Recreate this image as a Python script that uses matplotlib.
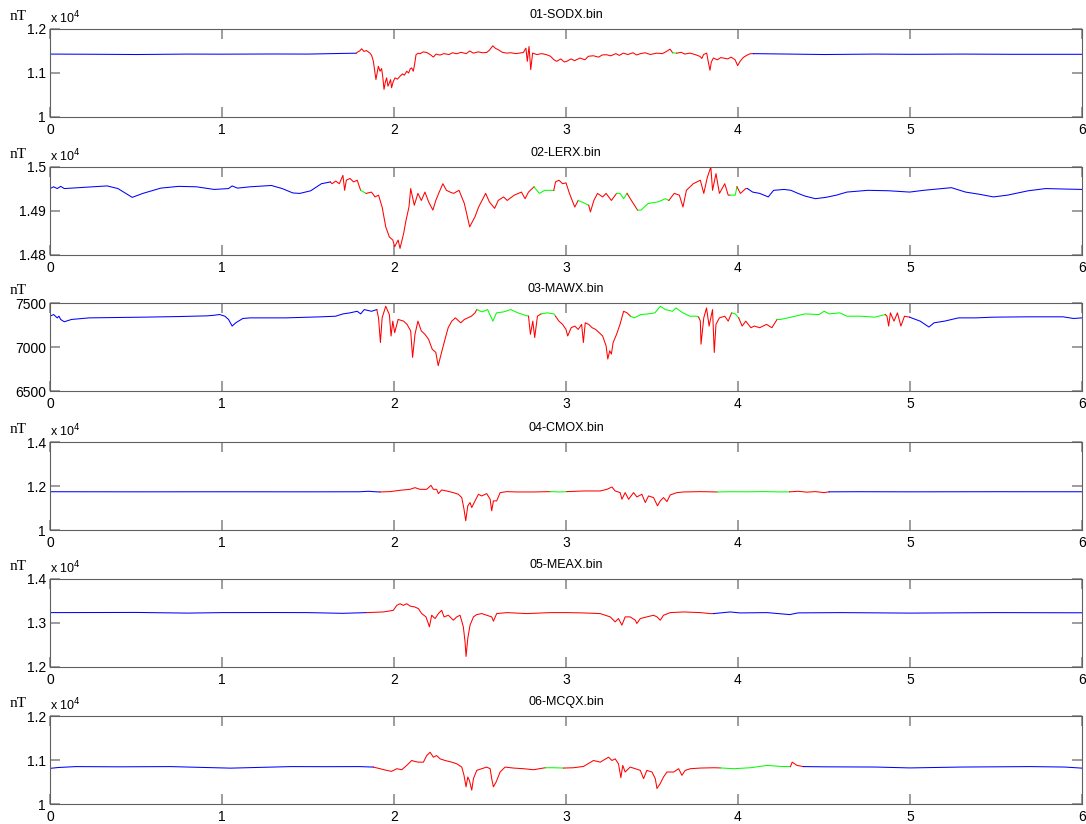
import matplotlib.pyplot as plt
import numpy as np

# (day, nT), one list per station
sodx = [(0.0, 11430), (0.3, 11425), (0.5, 11420), (0.8, 11430), (1.0, 11428), (1.3, 11432), (1.5, 11430),
        (1.7, 11445), (1.78, 11450), (1.79, 11480), (1.80, 11500), (1.812, 11550), (1.825, 11490), (1.84, 11510),
        (1.86, 11452), (1.87, 11400), (1.88, 11265), (1.895, 10852), (1.909, 11152), (1.919, 11040), (1.928, 11100),
        (1.935, 10900), (1.942, 10627), (1.95, 10800), (1.957, 10890), (1.965, 10700), (1.973, 10777), (1.98, 10850),
        (1.986, 10665), (1.995, 10800), (2.006, 10890), (2.02, 10860), (2.035, 10927), (2.05, 10980), (2.06, 10950),
        (2.074, 11040), (2.085, 11000), (2.095, 11100), (2.103, 11115), (2.112, 11040), (2.12, 11200), (2.128, 11415),
        (2.14, 11450), (2.151, 11437), (2.17, 11480), (2.19, 11467), (2.21, 11420), (2.229, 11362), (2.245, 11430),
        (2.267, 11407), (2.29, 11440), (2.32, 11420), (2.34, 11460), (2.364, 11437), (2.39, 11470), (2.42, 11440),
        (2.44, 11500), (2.461, 11452), (2.49, 11480), (2.515, 11460), (2.539, 11467), (2.555, 11520), (2.574, 11617),
        (2.59, 11560), (2.607, 11527), (2.63, 11470), (2.655, 11452), (2.68, 11460), (2.71, 11440), (2.752, 11467),
        (2.767, 11565), (2.775, 11265), (2.785, 11602), (2.795, 11077), (2.806, 11452), (2.83, 11420), (2.86, 11440),
        (2.888, 11415), (2.91, 11380), (2.93, 11300), (2.946, 11265), (2.97, 11320), (2.99, 11250), (3.004, 11265),
        (3.03, 11320), (3.05, 11280), (3.081, 11340), (3.11, 11300), (3.13, 11380), (3.159, 11392), (3.19, 11360),
        (3.21, 11410), (3.236, 11415), (3.26, 11390), (3.29, 11440), (3.31, 11400), (3.333, 11452), (3.36, 11420),
        (3.39, 11460), (3.41, 11410), (3.43, 11437), (3.46, 11460), (3.49, 11420), (3.527, 11452), (3.56, 11440),
        (3.58, 11480), (3.605, 11542), (3.62, 11460), (3.643, 11450), (3.67, 11470), (3.69, 11430), (3.721, 11452),
        (3.75, 11420), (3.779, 11377), (3.79, 11330), (3.80, 11420), (3.818, 11452), (3.825, 11300), (3.837, 11062),
        (3.845, 11250), (3.857, 11340), (3.88, 11300), (3.90, 11350), (3.915, 11340), (3.94, 11320), (3.96, 11360),
        (3.983, 11302), (3.998, 11167), (4.012, 11265), (4.03, 11350), (4.05, 11400), (4.07, 11437), (4.09, 11440),
        (4.3, 11430), (4.5, 11420), (4.8, 11430), (5.0, 11425), (5.3, 11430), (5.6, 11425), (6.0, 11425)]

lerx = [(0.0, 14951), (0.021, 14955), (0.042, 14951), (0.062, 14956), (0.083, 14951), (0.125, 14952), (0.332, 14957),
        (0.395, 14951), (0.478, 14931), (0.54, 14940), (0.644, 14952), (0.748, 14956), (0.851, 14955), (0.955, 14949),
        (1.038, 14951), (1.059, 14957), (1.09, 14952), (1.163, 14955), (1.287, 14958), (1.35, 14951), (1.412, 14941),
        (1.453, 14940), (1.516, 14946), (1.578, 14962), (1.63, 14966), (1.64, 14962), (1.661, 14968), (1.682, 14962),
        (1.703, 14981), (1.713, 14947), (1.723, 14970), (1.744, 14974), (1.765, 14966), (1.786, 14970), (1.806, 14947),
        (1.838, 14940), (1.869, 14943), (1.89, 14932), (1.91, 14936), (1.931, 14909), (1.952, 14864), (1.973, 14841),
        (1.993, 14834), (2.004, 14819), (2.024, 14834), (2.035, 14815), (2.056, 14849), (2.07, 14879), (2.087, 14909),
        (2.097, 14951), (2.118, 14913), (2.139, 14940), (2.159, 14924), (2.18, 14943), (2.201, 14921), (2.226, 14902),
        (2.243, 14924), (2.263, 14943), (2.284, 14962), (2.305, 14947), (2.326, 14943), (2.346, 14940), (2.378, 14947),
        (2.409, 14917), (2.44, 14864), (2.471, 14887), (2.492, 14909), (2.533, 14940), (2.554, 14921), (2.585, 14906),
        (2.606, 14924), (2.637, 14932), (2.658, 14924), (2.699, 14936), (2.741, 14943), (2.762, 14928), (2.782, 14943),
        (2.814, 14955), (2.845, 14940), (2.876, 14947), (2.929, 14947), (2.939, 14966), (2.959, 14970), (2.98, 14962),
        (3.0, 14964), (3.02, 14940), (3.051, 14909), (3.071, 14924), (3.112, 14917), (3.132, 14913), (3.142, 14898),
        (3.162, 14924), (3.183, 14940), (3.213, 14932), (3.233, 14940), (3.264, 14924), (3.294, 14940), (3.314, 14940),
        (3.335, 14928), (3.355, 14940), (3.385, 14921), (3.416, 14902), (3.436, 14902), (3.477, 14917), (3.538, 14921),
        (3.578, 14928), (3.598, 14924), (3.629, 14940), (3.659, 14936), (3.68, 14909), (3.70, 14947), (3.74, 14962),
        (3.781, 14970), (3.801, 14940), (3.822, 14977), (3.842, 15000), (3.852, 14947), (3.872, 14985), (3.892, 14940),
        (3.923, 14962), (3.943, 14936), (3.953, 14936), (3.984, 14936), (3.994, 14955), (4.014, 14940), (4.045, 14951),
        (4.055, 14951), (4.085, 14943), (4.126, 14940), (4.176, 14932), (4.207, 14947), (4.268, 14949), (4.308, 14947),
        (4.349, 14940), (4.389, 14934), (4.45, 14928), (4.511, 14931), (4.572, 14936), (4.633, 14943), (4.755, 14947),
        (4.876, 14946), (4.998, 14943), (5.079, 14947), (5.241, 14953), (5.323, 14943), (5.404, 14938), (5.485, 14932),
        (5.566, 14936), (5.688, 14946), (5.789, 14951), (5.89, 14950), (6.0, 14949)]

mawx = [(0.0, 7350), (0.021, 7369), (0.042, 7331), (0.052, 7350), (0.062, 7313), (0.083, 7287), (0.125, 7313),
        (0.228, 7331), (0.54, 7339), (0.748, 7346), (0.914, 7354), (0.955, 7361), (0.986, 7369), (1.017, 7350),
        (1.038, 7313), (1.059, 7238), (1.08, 7275), (1.121, 7324), (1.163, 7331), (1.37, 7331), (1.578, 7343),
        (1.661, 7350), (1.703, 7376), (1.744, 7388), (1.786, 7406), (1.806, 7376), (1.827, 7425), (1.869, 7406),
        (1.9, 7425), (1.91, 7331), (1.921, 7051), (1.931, 7331), (1.952, 7463), (1.973, 7369), (1.983, 7125),
        (1.993, 7294), (2.004, 7163), (2.024, 7313), (2.056, 7294), (2.076, 7257), (2.097, 7182), (2.108, 6882),
        (2.122, 7144), (2.139, 7294), (2.159, 7182), (2.18, 7144), (2.201, 7088), (2.222, 6976), (2.243, 6938),
        (2.257, 6788), (2.274, 6920), (2.294, 7069), (2.315, 7219), (2.336, 7294), (2.357, 7331), (2.388, 7275),
        (2.409, 7313), (2.45, 7350), (2.471, 7388), (2.481, 7425), (2.512, 7399), (2.544, 7425), (2.575, 7294),
        (2.596, 7388), (2.637, 7399), (2.679, 7425), (2.72, 7388), (2.762, 7361), (2.782, 7350), (2.793, 7144),
        (2.807, 7294), (2.818, 7107), (2.834, 7350), (2.855, 7376), (2.89, 7388), (2.93, 7376), (2.939, 7350),
        (2.959, 7294), (2.98, 7257), (3.0, 7200), (3.01, 7125), (3.03, 7219), (3.051, 7238), (3.071, 7200),
        (3.091, 7257), (3.101, 7051), (3.112, 7275), (3.132, 7257), (3.152, 7219), (3.172, 7200), (3.193, 7163),
        (3.213, 7125), (3.223, 7069), (3.233, 7013), (3.243, 6863), (3.254, 6957), (3.264, 6920), (3.274, 7051),
        (3.294, 7144), (3.314, 7257), (3.335, 7406), (3.355, 7388), (3.375, 7350), (3.396, 7331), (3.436, 7369),
        (3.477, 7376), (3.517, 7388), (3.548, 7463), (3.578, 7425), (3.619, 7406), (3.639, 7444), (3.68, 7388),
        (3.72, 7350), (3.761, 7350), (3.771, 7340), (3.781, 7294), (3.785, 7032), (3.801, 7331), (3.817, 7444),
        (3.832, 7238), (3.852, 7425), (3.862, 6938), (3.872, 7257), (3.892, 7331), (3.923, 7350), (3.943, 7294),
        (3.963, 7388), (3.984, 7376), (4.004, 7331), (4.024, 7238), (4.045, 7294), (4.075, 7219), (4.095, 7238),
        (4.126, 7219), (4.166, 7257), (4.197, 7219), (4.227, 7313), (4.247, 7313), (4.308, 7339), (4.389, 7376),
        (4.471, 7369), (4.501, 7406), (4.531, 7376), (4.592, 7388), (4.633, 7350), (4.714, 7350), (4.795, 7339),
        (4.856, 7369), (4.866, 7350), (4.876, 7238), (4.886, 7388), (4.907, 7294), (4.927, 7388), (4.947, 7238),
        (4.968, 7350), (4.998, 7339), (5.008, 7331), (5.059, 7294), (5.11, 7227), (5.14, 7275), (5.201, 7294),
        (5.282, 7331), (5.383, 7331), (5.485, 7339), (5.688, 7343), (5.89, 7343), (5.951, 7324), (6.0, 7331)]

cmox = [(0.0, 11740), (0.5, 11735), (1.0, 11738), (1.5, 11735), (1.8, 11738), (1.85, 11760), (1.9, 11735),
        (1.919, 11729), (1.977, 11744), (2.035, 11804), (2.093, 11849), (2.122, 11925), (2.151, 11849), (2.19, 11849),
        (2.215, 12030), (2.229, 11849), (2.248, 11849), (2.258, 11654), (2.277, 11819), (2.306, 11774), (2.345, 11699),
        (2.374, 11624), (2.394, 11473), (2.407, 10947), (2.417, 10420), (2.429, 11097), (2.442, 11248), (2.452, 11022),
        (2.471, 11323), (2.491, 11624), (2.51, 11548), (2.539, 11654), (2.559, 11398), (2.568, 10872), (2.578, 11323),
        (2.597, 11323), (2.617, 11699), (2.656, 11744), (2.714, 11729), (2.811, 11729), (2.908, 11744), (2.966, 11729),
        (3.005, 11744), (3.102, 11774), (3.199, 11774), (3.238, 11849), (3.267, 11955), (3.286, 11774), (3.315, 11699),
        (3.325, 11398), (3.344, 11699), (3.364, 11398), (3.393, 11699), (3.412, 11503), (3.441, 11624), (3.461, 11248),
        (3.48, 11548), (3.509, 11473), (3.532, 11097), (3.548, 11323), (3.567, 11473), (3.587, 11293), (3.606, 11594),
        (3.645, 11699), (3.684, 11729), (3.781, 11744), (3.878, 11729), (3.95, 11740), (4.05, 11735), (4.15, 11745),
        (4.25, 11730), (4.3, 11735), (4.35, 11760), (4.4, 11720), (4.45, 11745), (4.5, 11700), (4.53, 11735),
        (4.7, 11740), (5.0, 11735), (5.5, 11740), (6.0, 11738)]

meax = [(0.0, 13236), (0.5, 13240), (0.8, 13225), (1.0, 13236), (1.3, 13238), (1.5, 13236), (1.7, 13220),
        (1.841, 13236), (1.938, 13251), (1.996, 13288), (2.016, 13401), (2.035, 13438), (2.054, 13401), (2.074, 13438),
        (2.093, 13386), (2.122, 13363), (2.142, 13326), (2.161, 13214), (2.186, 13139), (2.206, 12914), (2.219, 13176),
        (2.239, 13101), (2.258, 13214), (2.277, 13288), (2.291, 13139), (2.316, 13176), (2.345, 13064), (2.365, 13139),
        (2.384, 13176), (2.403, 12914), (2.413, 12577), (2.419, 12240), (2.429, 12652), (2.442, 12951), (2.462, 13139),
        (2.481, 13191), (2.51, 13214), (2.539, 13176), (2.568, 13139), (2.578, 13041), (2.597, 13214), (2.656, 13236),
        (2.772, 13214), (2.908, 13236), (3.005, 13236), (3.102, 13229), (3.199, 13214), (3.257, 13139), (3.286, 13026),
        (3.305, 13101), (3.325, 12951), (3.344, 13139), (3.373, 13139), (3.403, 13064), (3.412, 12989), (3.432, 13101),
        (3.47, 13139), (3.509, 13176), (3.529, 13139), (3.548, 13064), (3.567, 13176), (3.606, 13236), (3.684, 13251),
        (3.781, 13236), (3.839, 13214), (3.858, 13214), (3.955, 13251), (4.01, 13229), (4.17, 13236), (4.3, 13191),
        (4.35, 13230), (4.6, 13236), (5.0, 13225), (5.5, 13236), (6.0, 13232)]

mcqx = [(0.0, 10810), (0.05, 10830), (0.15, 10850), (0.4, 10845), (0.7, 10850), (0.9, 10830), (1.05, 10815),
        (1.2, 10830), (1.4, 10850), (1.6, 10848), (1.8, 10850), (1.88, 10839), (1.919, 10802), (1.957, 10764),
        (1.986, 10742), (2.016, 10802), (2.045, 10779), (2.074, 10877), (2.103, 10989), (2.122, 10966), (2.142, 10951),
        (2.171, 10951), (2.19, 11101), (2.21, 11176), (2.229, 11064), (2.248, 11101), (2.268, 11026), (2.297, 10989),
        (2.336, 10951), (2.365, 10914), (2.394, 10839), (2.407, 10652), (2.419, 10390), (2.429, 10614), (2.438, 10540),
        (2.452, 10315), (2.462, 10577), (2.481, 10764), (2.51, 10802), (2.539, 10839), (2.559, 10802), (2.568, 10577),
        (2.578, 10390), (2.594, 10502), (2.617, 10727), (2.646, 10839), (2.694, 10817), (2.753, 10802), (2.811, 10779),
        (2.879, 10824), (2.927, 10824), (2.985, 10817), (3.044, 10824), (3.102, 10854), (3.16, 10989), (3.199, 10951),
        (3.247, 11064), (3.267, 10989), (3.286, 11026), (3.305, 10914), (3.319, 10599), (3.33, 10877), (3.344, 10727),
        (3.373, 10839), (3.403, 10802), (3.432, 10764), (3.451, 10577), (3.47, 10764), (3.5, 10727), (3.519, 10577),
        (3.529, 10352), (3.548, 10465), (3.567, 10614), (3.587, 10727), (3.626, 10727), (3.655, 10802), (3.674, 10652),
        (3.693, 10764), (3.723, 10802), (3.781, 10817), (3.858, 10824), (3.897, 10820), (3.975, 10802), (4.072, 10824),
        (4.169, 10877), (4.246, 10854), (4.305, 10850), (4.315, 10951), (4.343, 10877), (4.38, 10850), (4.5, 10845),
        (4.8, 10840), (5.0, 10820), (5.3, 10840), (5.7, 10850), (5.9, 10840), (6.0, 10815)]

# where each coloured stretch of the trace begins/ends
edges_sodx = [0, 1.78, 3.62, 3.643, 4.09, 6]
colors_sodx = ['b', 'r', 'g', 'r', 'b']
edges_lerx = [0, 1.63, 1.806, 1.838, 2.814, 2.929, 3.071, 3.132, 3.294, 3.355, 3.416, 3.598, 3.953, 3.994, 4.055, 6]
colors_lerx = ['b', 'r', 'g', 'r', 'g', 'r', 'g', 'r', 'g', 'r', 'g', 'r', 'g', 'r', 'b']
edges_mawx = [0, 1.9, 2.481, 2.782, 2.855, 2.939, 3.375, 3.771, 3.963, 4.004, 4.227, 4.856, 4.998, 6]
colors_mawx = ['b', 'r', 'g', 'r', 'g', 'r', 'g', 'r', 'g', 'r', 'g', 'r', 'b']
edges_cmox = [0, 1.919, 2.908, 3.005, 3.878, 4.3, 4.53, 6]
colors_cmox = ['b', 'r', 'g', 'r', 'g', 'r', 'b']
edges_meax = [0, 1.841, 3.858, 6]
colors_meax = ['b', 'r', 'b']
edges_mcqx = [0, 1.88, 2.879, 2.985, 3.897, 4.305, 4.38, 6]
colors_mcqx = ['b', 'r', 'g', 'r', 'g', 'r', 'b']

titles = ['01-SODX.bin', '02-LERX.bin', '03-MAWX.bin', '04-CMOX.bin', '05-MEAX.bin', '06-MCQX.bin']
ylims = [(10000, 12000), (14800, 15000), (6500, 7500), (10000, 14000), (12000, 14000), (10000, 12000)]
yticks = [[10000, 11000, 12000], [14800, 14900, 15000], [6500, 7000, 7500],
          [10000, 12000, 14000], [12000, 13000, 14000], [10000, 11000, 12000]]
yticklabels = [['1', '1.1', '1.2'], ['1.48', '1.49', '1.5'], ['6500', '7000', '7500'],
               ['1', '1.2', '1.4'], ['1.2', '1.3', '1.4'], ['1', '1.1', '1.2']]
scaled = [True, True, False, True, True, True]

series = [sodx, lerx, mawx, cmox, meax, mcqx]
edges = [edges_sodx, edges_lerx, edges_mawx, edges_cmox, edges_meax, edges_mcqx]
colors = [colors_sodx, colors_lerx, colors_mawx, colors_cmox, colors_meax, colors_mcqx]
cmap = {'b': (0, 0, 1), 'r': (1, 0, 0), 'g': (0, 1, 0)}

plt.rcParams['font.family'] = 'Liberation Sans'

fig = plt.figure(figsize=(10.86, 8.24), dpi=100)
tops = [29, 167, 303, 442, 579, 716]

for i in range(6):
    bottom = 1 - (tops[i] + 88) / 824
    ax = fig.add_axes([50 / 1086, bottom, 1032 / 1086, 88 / 824])

    t, v = np.array(series[i], dtype=float).T
    for a, b, c in zip(edges[i][:-1], edges[i][1:], colors[i]):
        m = (t >= a - 1e-9) & (t <= b + 1e-9)
        ax.plot(t[m], v[m], color=cmap[c], lw=0.75)

    ax.set_xlim(0, 6)
    ax.set_ylim(*ylims[i])
    ax.set_xticks(range(7))
    ax.set_xticklabels([str(k) for k in range(7)])
    ax.set_yticks(yticks[i])
    ax.set_yticklabels(yticklabels[i])
    ax.tick_params(direction='in', top=True, right=True, length=7, width=1.2,
                   color='#8c8c8c', labelsize=10)
    ax.tick_params(axis='x', pad=4)
    ax.tick_params(axis='y', pad=3)
    for s in ax.spines.values():
        s.set_color('#606060')
        s.set_linewidth(0.8)

    ax.set_title(titles[i], fontsize=9, pad=8)
    ax.text(-0.039, 1.1, 'nT', transform=ax.transAxes, fontsize=11,
            family='Liberation Serif')
    if scaled[i]:
        ax.text(0.0, 1.06, r'x 10$^4$', transform=ax.transAxes, fontsize=9)

fig.savefig('out.png', dpi=100)
